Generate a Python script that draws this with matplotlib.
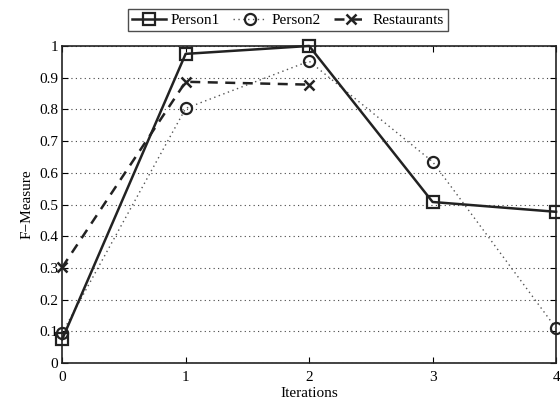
import matplotlib
matplotlib.use("Agg")
import matplotlib.pyplot as plt

iterations = [0, 1, 2, 3, 4]
person1 = [0.075, 0.975, 1.0, 0.508, 0.477]
person2 = [0.095, 0.803, 0.952, 0.635, 0.110]
rest_iter = [0, 1, 2]
restaurants = [0.302, 0.887, 0.878]
yticks = [0, 0.1, 0.2, 0.3, 0.4, 0.5, 0.6, 0.7, 0.8, 0.9, 1]
ytick_labels = ["0", "0.1", "0.2", "0.3", "0.4", "0.5", "0.6", "0.7", "0.8", "0.9", "1"]
xticks = [0, 1, 2, 3, 4]

plt.rcParams['font.family'] = ['Liberation Serif', 'DejaVu Serif']
plt.rcParams['font.size'] = 11

fig = plt.figure(figsize=(5.6, 4.03), dpi=100)
ax = fig.add_axes([0.111, 0.099, 0.882, 0.787])

ax.plot(iterations, person1, color='#222222', lw=1.8, ls='-', marker='s', ms=8,
        mfc='none', mec='#222222', mew=1.6, label='Person1', clip_on=False, zorder=4)
ax.plot(iterations, person2, color='#555555', lw=1.0, ls=(0, (1, 2.5)), marker='o', ms=8,
        mfc='none', mec='#222222', mew=1.6, label='Person2', clip_on=False, zorder=3)
ax.plot(rest_iter, restaurants, color='#222222', lw=1.8, ls=(0, (4, 3)), marker='x', ms=7,
        mec='#222222', mew=1.8, label='Restaurants', clip_on=False, zorder=5)

ax.set_xlim(0, 4)
ax.set_ylim(0, 1)
ax.set_xticks(xticks)
ax.set_xticklabels([str(x) for x in xticks])
ax.set_yticks(yticks)
ax.set_yticklabels(ytick_labels)
ax.yaxis.grid(True, ls=(0, (1, 3)), color='#444444', lw=0.8)
ax.xaxis.grid(False)
ax.tick_params(direction='in', top=True, right=True, length=4, width=0.8, labelsize=11)
ax.tick_params(axis='x', pad=6)
ax.tick_params(axis='y', pad=3)
for s in ax.spines.values():
    s.set_linewidth(1.2)
    s.set_color('#222222')
ax.set_xlabel('Iterations', fontsize=11, labelpad=2)
ax.set_ylabel('F\u2212Measure', fontsize=11, labelpad=4)

leg = fig.legend(loc='center', bbox_to_anchor=(288/560, 1 - 20/403), ncol=3,
                 frameon=True, fancybox=False, edgecolor='#222222', fontsize=11,
                 handlelength=2.2, columnspacing=0.9, handletextpad=0.3,
                 borderpad=0.25, borderaxespad=0)
leg.get_frame().set_linewidth(1.0)

fig.savefig('out.png', dpi=100)
